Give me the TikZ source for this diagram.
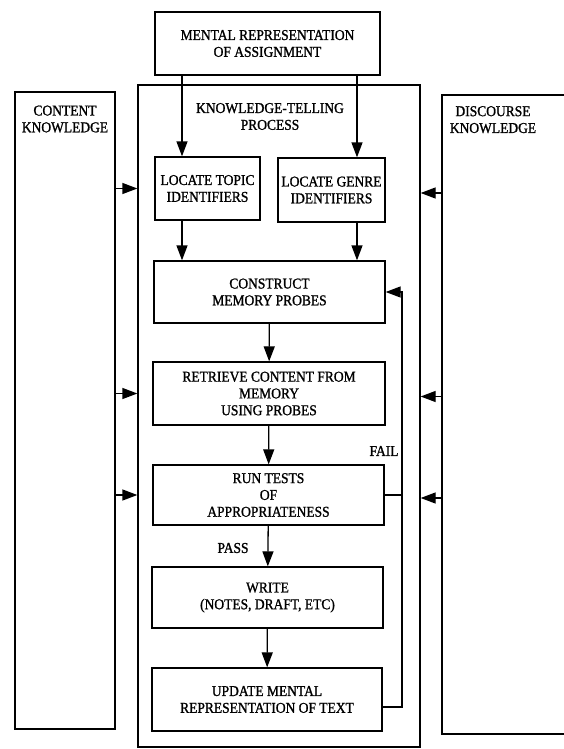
\documentclass[tikz,border=0pt]{standalone}
\usepackage{fontspec}
\setmainfont[FakeStretch=0.9, FakeBold=1.2]{Liberation Serif}
\usetikzlibrary{arrows.meta}
\begin{document}
\begin{tikzpicture}[x=1pt,y=-1pt,
  txt/.style={font=\fontsize{15}{16.8}\selectfont, align=center, inner sep=0pt},
  box/.style={draw, line width=1.3pt, txt, minimum width=#1},
  arr/.style={line width=1.3pt, -{Triangle[length=15pt,width=11pt]}},
  ln/.style={line width=1.3pt}]
  \useasboundingbox (0,0) rectangle (564,749);
  \clip (0,0) rectangle (564,749);

  % assignment and the two knowledge stores
  \node[box=225, minimum height=63] (top) at (267.5,43.5) {MENTAL REPRESENTATION\\OF ASSIGNMENT};
  \node[box=282, minimum height=662] (outer) at (279,416) {};
  \node[box=100, minimum height=637] (left) at (65,410.5) {};
  \node[box=160, minimum height=639] (right) at (522,414.5) {};
  \node[txt, below=14pt] (lefttitle) at (left.north) {CONTENT\\KNOWLEDGE};
  \node[txt, anchor=north] (righttitle) at (493,106) {DISCOURSE\\KNOWLEDGE};
  \node[txt] (proctitle) at (270,116.5) {KNOWLEDGE-TELLING\\PROCESS};

  % process steps
  \node[box=105, minimum height=63] (topic) at (207.5,188.5) {LOCATE TOPIC\\IDENTIFIERS};
  \node[box=107, minimum height=64] (genre) at (331.5,190) {LOCATE GENRE\\IDENTIFIERS};
  \node[box=231, minimum height=62] (construct) at (269.5,292) {CONSTRUCT\\MEMORY PROBES};
  \node[box=232, minimum height=63] (retrieve) at (269,393.5) {RETRIEVE CONTENT FROM\\MEMORY\\USING PROBES};
  \node[box=231, minimum height=60] (tests) at (268.5,495) {RUN TESTS\\OF\\APPROPRIATENESS};
  \node[box=231, minimum height=61] (write) at (267.5,597.5) {WRITE\\(NOTES, DRAFT, ETC)};
  \node[box=230, minimum height=63] (update) at (267,699.5) {UPDATE MENTAL\\REPRESENTATION OF TEXT};

  \coordinate (cx1) at (182,0);
  \coordinate (cx2) at (357,0);
  \coordinate (loop) at (402,0);

  % main flow
  \draw[arr] (top.south -| cx1) -- (topic.north -| cx1);
  \draw[arr] (top.south -| cx2) -- (genre.north -| cx2);
  \draw[arr] (topic.south -| cx1) -- (construct.north -| cx1);
  \draw[arr] (genre.south -| cx2) -- (construct.north -| cx2);
  \draw[arr] (construct) -- (retrieve);
  \draw[arr] (retrieve) -- (tests);
  \draw[arr] (tests) -- (write);
  \draw[arr] (write) -- (update);
  \node[txt] (pass) at (233,548) {PASS};
  \node[txt] (fail) at (384,451) {FAIL};

  % feedback loop
  \draw[arr] ([yshift=-7.5pt]update.east) -| (loop |- construct.east) -- (construct.east);
  \draw[ln] (tests.east) -- (tests.east -| loop);

  % knowledge inputs
  \foreach \s in {topic, retrieve, tests} {
    \draw[arr] (left.east |- \s.center) -- (outer.west |- \s.center);
  }
  \foreach \s in {genre, retrieve, tests} {
    \draw[arr] ([yshift=-3pt]right.west |- \s.center) -- ([yshift=-3pt]outer.east |- \s.center);
  }
\end{tikzpicture}
\end{document}
